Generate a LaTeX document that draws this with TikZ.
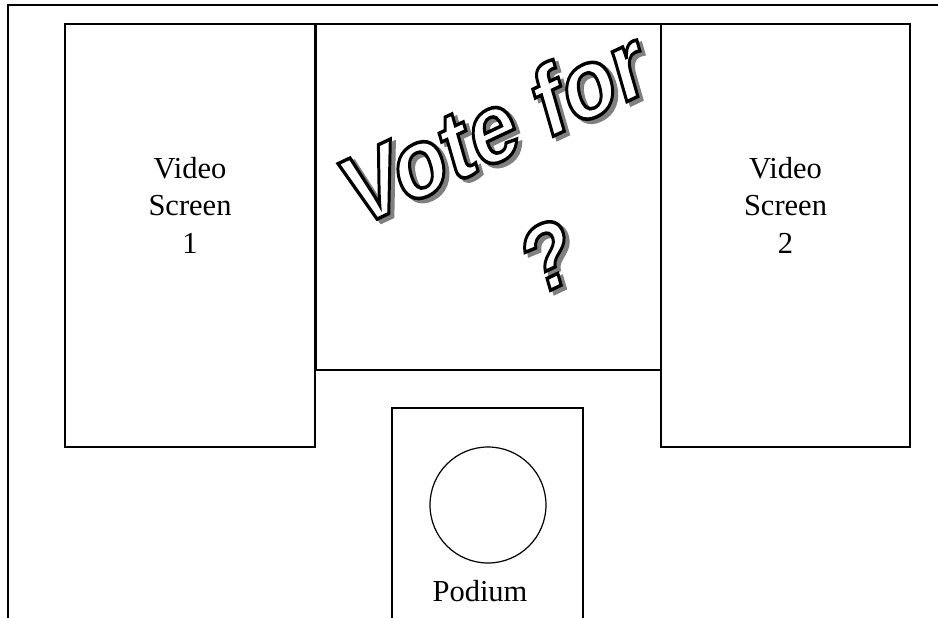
\documentclass[tikz,border=0pt]{standalone}
\usepackage{fontspec}
\setmainfont{Liberation Serif}
\newfontfamily\artfont{Liberation Sans}
% outlined and shaded word art text
\newcommand\outlinetext[1]{\special{pdf:literal direct 0 G 2 Tr 2.8 w}#1\special{pdf:literal direct 0 Tr}}
\newcommand\shadetext[1]{\special{pdf:literal direct 2 Tr 2.8 w}#1\special{pdf:literal direct 0 Tr}}

\begin{document}
\begin{tikzpicture}[x=1pt, y=1pt,
  wall/.style={draw, line width=1.5pt},
  sign/.style={align=center, inner sep=0pt, font=\fontsize{30.5}{37.5}\selectfont},
  art/.style={inner sep=0pt, anchor=base west, transform shape, font=\artfont\bfseries\fontsize{80}{80}\selectfont},
  askart/.style={art, font=\artfont\bfseries\fontsize{76}{76}\selectfont}]
\useasboundingbox (0,0) rectangle (938,618);
% outer hall
\draw[wall] (8,-2) -- (8,613) -- (940,613);
% screens
\draw[wall] (65,171) rectangle (315,594);
\draw[wall] (316,248) rectangle (661,594);
\draw[wall] (661,171) rectangle (910,594);
% podium
\draw[wall] (392,-2) -- (392,210) -- (583,210) -- (583,-2);
\draw[line width=1.2pt] (488,113) circle (58);
\node[sign] (vs1) at (190,413) {Video\\Screen\\1};
\node[sign] (vs2) at (785.5,413) {Video\\Screen\\2};
\node[sign, anchor=base] (pod) at (480,16) {Podium};
% word art
\begin{scope}[shift={(356,389)}, cm={1,0.47,-0.34,1.18,(0,0)}]
  \node[art, text=gray] (voteshade) at (2.8,-3.8) {\shadetext{Vote for}};
  \node[art, text=white] (vote) at (0,0) {\outlinetext{Vote for}};
\end{scope}
\begin{scope}[shift={(534,320)}, cm={1,0.47,-0.34,1.18,(0,0)}]
  \node[askart, text=gray] (askshade) at (2.8,-3.8) {\shadetext{?}};
  \node[askart, text=white] (ask) at (0,0) {\outlinetext{?}};
\end{scope}
\end{tikzpicture}
\end{document}
